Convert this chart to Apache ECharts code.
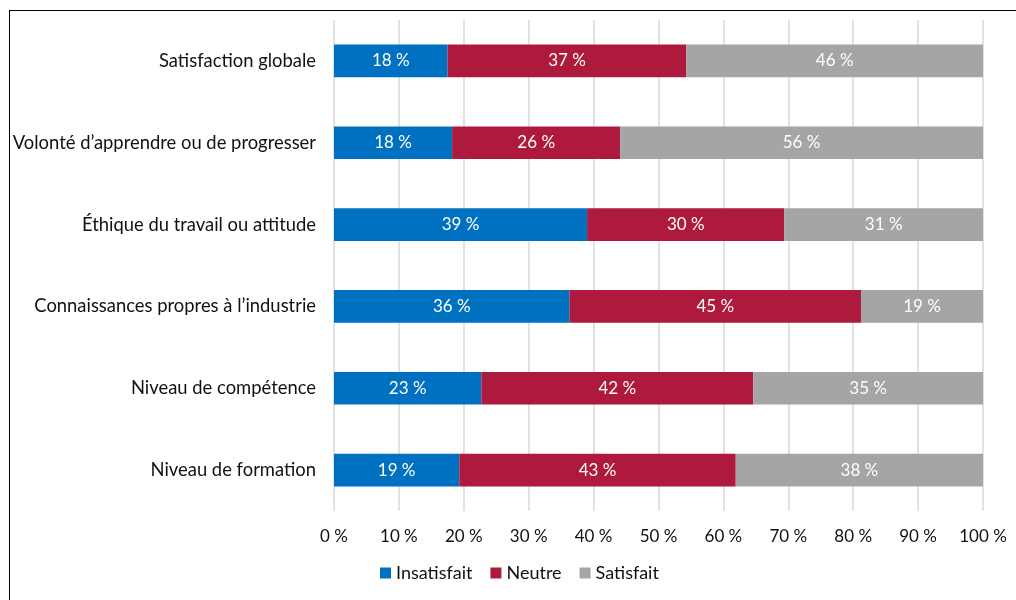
<!DOCTYPE html>
<html>
<head>
<meta charset="utf-8">
<script src="https://cdn.jsdelivr.net/npm/echarts@6/dist/echarts.min.js"></script>
<style>
  html, body { margin: 0; padding: 0; background: #fff; }
  #frame { position: absolute; left: 9px; top: 10px; width: 1100px; height: 700px; border: 1.5px solid #000; box-sizing: border-box; }
  #chart { position: absolute; left: 0; top: 0; width: 1016px; height: 600px; }
</style>
</head>
<body>
<div id="frame"></div>
<div id="chart"></div>
<script>
// Survey items, top to bottom
const categories = [
  'Satisfaction globale',
  'Volonté d\u2019apprendre ou de progresser',
  'Éthique du travail ou attitude',
  'Connaissances propres à l\u2019industrie',
  'Niveau de compétence',
  'Niveau de formation'
];
// Share of respondents (%) per item
const insatisfait = [17.5, 18.2, 39.0, 36.3, 22.7, 19.3];
const neutre      = [36.8, 25.9, 30.4, 44.9, 41.9, 42.6];
const satisfait   = [45.7, 55.9, 30.6, 18.8, 35.4, 38.1];
const xTicks = [0, 10, 20, 30, 40, 50, 60, 70, 80, 90, 100];

const FONT = 'Lato, "Open Sans", sans-serif';

function makeSeries(name, data, color) {
  return {
    name: name,
    type: 'bar',
    stack: 'total',
    data: data,
    barCategoryGap: '60%',
    itemStyle: { color: color },
    label: {
      show: true,
      position: 'inside',
      color: '#fff',
      fontFamily: FONT,
      fontSize: 17,
      formatter: p => Math.round(p.value) + ' %'
    }
  };
}

const chart = echarts.init(document.getElementById('chart'), null, { renderer: 'canvas' });
chart.setOption({
  animation: false,
  backgroundColor: 'transparent',
  grid: { left: 334, right: 33, top: 20, bottom: 89, containLabel: false },
  legend: {
    bottom: 13,
    left: 375,
    itemWidth: 11,
    itemHeight: 11,
    itemGap: 18,
    icon: 'rect',
    textStyle: { fontFamily: FONT, fontSize: 18, color: '#111' },
    data: ['Insatisfait', 'Neutre', 'Satisfait']
  },
  xAxis: {
    type: 'value',
    min: xTicks[0],
    max: xTicks[xTicks.length - 1],
    interval: xTicks[1] - xTicks[0],
    axisLine: { show: false },
    axisTick: { show: false },
    splitLine: { lineStyle: { color: '#d9d9d9', width: 1.5 } },
    axisLabel: {
      margin: 17,
      fontFamily: FONT,
      fontSize: 17,
      color: '#111',
      formatter: v => v + ' %'
    }
  },
  yAxis: {
    type: 'category',
    inverse: true,
    data: categories,
    axisLine: { show: false },
    axisTick: { show: false },
    axisLabel: { margin: 18, fontFamily: FONT, fontSize: 18.4, color: '#111' }
  },
  series: [
    makeSeries('Insatisfait', insatisfait, '#0070C0'),
    makeSeries('Neutre', neutre, '#AE1A3E'),
    makeSeries('Satisfait', satisfait, '#A5A5A5')
  ]
});
</script>
</body>
</html>
